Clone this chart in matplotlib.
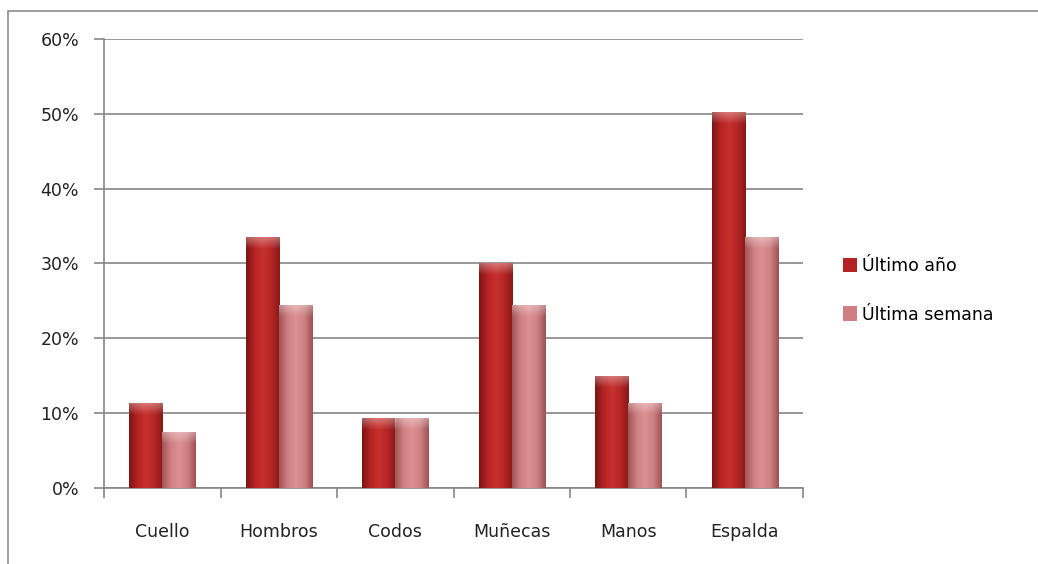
import numpy as np
import matplotlib
matplotlib.use("Agg")
import matplotlib.pyplot as plt
from matplotlib.colors import LinearSegmentedColormap
from matplotlib.patches import Rectangle

# ---- data ----
categories = ["Cuello", "Hombros", "Codos", "Muñecas", "Manos", "Espalda"]
ultimo_anio = [11.3, 33.6, 9.4, 30.0, 15.0, 50.2]
ultima_semana = [7.5, 24.5, 9.4, 24.5, 11.3, 33.6]
series_names = ["Último año", "Última semana"]

DARK = LinearSegmentedColormap.from_list(
    "dark", ["#7e1414", "#b42323", "#c8302e", "#b52726", "#8a1818"])
LIGHT = LinearSegmentedColormap.from_list(
    "light", ["#a05456", "#cf7f81", "#dc9193", "#cf8082", "#9e5254"])
HILITE = LinearSegmentedColormap.from_list(
    "hl", [(1, 1, 1, 0.0), (1, 1, 1, 0.35)])

plt.rcParams["font.family"] = ["DejaVu Sans"]

fig = plt.figure(figsize=(10.38, 5.64), dpi=100)
ax = fig.add_axes([0.1002, 0.1348, 0.6734, 0.7961])

# outer chart frame (cut off at right/bottom in the reference)
fig.patches.append(Rectangle((8 / 1038, -0.05), 1.1, 1 - 11 / 564 + 0.05,
                             transform=fig.transFigure, fill=False,
                             edgecolor="#8c8c8c", linewidth=1.2))

x = np.arange(len(categories))
w = 0.285


def gradient_bars(bars, cmap):
    grad = np.linspace(0, 1, 64).reshape(1, -1)
    for b in bars:
        x0, y0 = b.get_x(), b.get_y()
        bw, bh = b.get_width(), b.get_height()
        im = ax.imshow(grad, cmap=cmap, aspect="auto",
                       extent=[x0, x0 + bw, y0, y0 + bh], zorder=3,
                       interpolation="bilinear")
        im.set_clip_path(b)
        # soft bevel highlight at the top, fading downwards
        top = min(1.6, bh * 0.25)
        hl = np.linspace(0, 1, 32).reshape(-1, 1)
        hi = ax.imshow(hl, cmap=HILITE, aspect="auto", origin="lower",
                       extent=[x0, x0 + bw, y0 + bh - top, y0 + bh],
                       zorder=4, interpolation="bilinear")
        hi.set_clip_path(b)


b1 = ax.bar(x - w / 2, ultimo_anio, w, color="#b42323", zorder=2,
            linewidth=0, label=series_names[0])
b2 = ax.bar(x + w / 2, ultima_semana, w, color="#cf7f81", zorder=2,
            linewidth=0, label=series_names[1])
gradient_bars(b1, DARK)
gradient_bars(b2, LIGHT)

ax.set_xlim(-0.5, len(categories) - 0.5)
ax.set_ylim(0, 60)
ax.set_yticks(range(0, 61, 10))
ax.set_yticklabels([f"{v}%" for v in range(0, 61, 10)], fontsize=12.5)
ax.set_xticks(x)
ax.set_xticklabels(categories, fontsize=12.5)
ax.set_xticks(np.arange(-0.5, len(categories)), minor=True)

ax.grid(axis="y", color="#868686", linewidth=1.2, zorder=0)
for s in ["top", "right"]:
    ax.spines[s].set_visible(False)
for s in ["left", "bottom"]:
    ax.spines[s].set_color("#868686")
    ax.spines[s].set_linewidth(1.2)

ax.tick_params(axis="y", length=7, color="#868686", width=1.2, pad=11,
               labelcolor="#222222")
ax.tick_params(axis="x", which="major", length=0, pad=25,
               labelcolor="#222222")
ax.tick_params(axis="x", which="minor", length=7, color="#868686", width=1.2)

leg = ax.legend(loc="center left", bbox_to_anchor=(1.035, 0.44),
                frameon=False, fontsize=12.5,
                handlelength=0.8, handleheight=0.9, handletextpad=0.3,
                labelspacing=1.75)
leg.legend_handles[0].set_facecolor("#b42323")
leg.legend_handles[1].set_facecolor("#cf7f81")

fig.savefig("out.png", dpi=100)
